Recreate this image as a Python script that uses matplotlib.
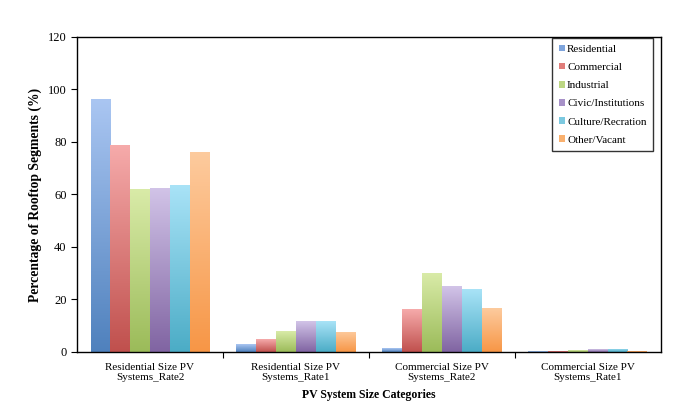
import matplotlib
matplotlib.use("Agg")
import matplotlib.pyplot as plt
import numpy as np
from matplotlib.colors import LinearSegmentedColormap

plt.rcParams['font.family'] = ['Liberation Serif', 'DejaVu Serif']

categories = ["Residential Size PV\nSystems_Rate2", "Residential Size PV\nSystems_Rate1",
              "Commercial Size PV\nSystems_Rate2", "Commercial Size PV\nSystems_Rate1"]
series = ["Residential", "Commercial", "Industrial", "Civic/Institutions",
          "Culture/Recration", "Other/Vacant"]
residential = [96.2, 3.0, 1.4, 0.3]
commercial = [79.0, 4.8, 16.3, 0.4]
industrial = [62.0, 8.0, 30.0, 0.6]
civic = [62.5, 11.7, 25.0, 1.0]
culture = [63.6, 11.7, 23.8, 1.2]
other = [76.0, 7.7, 16.7, 0.5]
values = [residential, commercial, industrial, civic, culture, other]

top_colors = ["#aac6f2", "#f6abab", "#d9eba8", "#d2c4e8", "#a9e3f7", "#fdcb9e"]
bot_colors = ["#4f81bd", "#c0504d", "#9bbb59", "#8064a2", "#4bacc6", "#f79646"]
leg_colors = ["#7ea4dc", "#e07d7a", "#bcd683", "#a791c8", "#7cc9e0", "#f9b06e"]

fig = plt.figure(figsize=(7, 4.2), dpi=100)
ax = fig.add_axes([0.11, 0.162, 0.834, 0.750])

n = len(series)
group_w = 0.815
bw = group_w / n
x = np.arange(len(categories))
grad = np.linspace(0, 1, 256).reshape(-1, 1)

for i, (s, vals) in enumerate(zip(series, values)):
    pos = x - group_w / 2 + bw * (i + 0.5)
    bars = ax.bar(pos, vals, width=bw, color='none', edgecolor='none', zorder=2)
    cmap = LinearSegmentedColormap.from_list(s, [bot_colors[i], top_colors[i]])
    for b in bars:
        bx, by = b.get_x(), b.get_y()
        w, h = b.get_width(), b.get_height()
        im = ax.imshow(grad, cmap=cmap, origin='lower', aspect='auto',
                       extent=[bx, bx + w, by, by + h], zorder=2)
        im.set_clip_path(b)
    ax.bar([np.nan], [np.nan], color=leg_colors[i], label=s)

ax.set_xlim(-0.5, len(categories) - 0.5)
ax.set_ylim(0, 120)
ax.set_yticks(np.arange(0, 121, 20))
ax.set_xticks(x)
ax.set_xticklabels(categories, fontsize=8)
ax.set_xticks(np.arange(0.5, len(categories) - 1, 1), minor=True)
ax.tick_params(axis='x', which='major', length=0, pad=8)
ax.tick_params(axis='x', which='minor', length=4, direction='out', width=0.8)
ax.tick_params(axis='y', length=4, direction='out', width=0.8, labelsize=9)
for sp in ax.spines.values():
    sp.set_linewidth(1.0)
    sp.set_color('black')

ax.set_ylabel("Percentage of Rooftop Segments (%)", fontsize=9.8, fontweight='bold')
ax.yaxis.set_label_coords(-0.06, 0.5)
ax.set_xlabel("PV System Size Categories", fontsize=8.5, fontweight='bold', labelpad=5)

leg = ax.legend(loc='upper right', fontsize=8, frameon=True, fancybox=False,
                edgecolor='black', handlelength=0.55, handleheight=0.55,
                handletextpad=0.2, labelspacing=0.8, borderpad=0.6,
                borderaxespad=0, bbox_to_anchor=(0.987, 0.997))
leg.get_frame().set_linewidth(1.0)

fig.savefig("out.png", dpi=100)
